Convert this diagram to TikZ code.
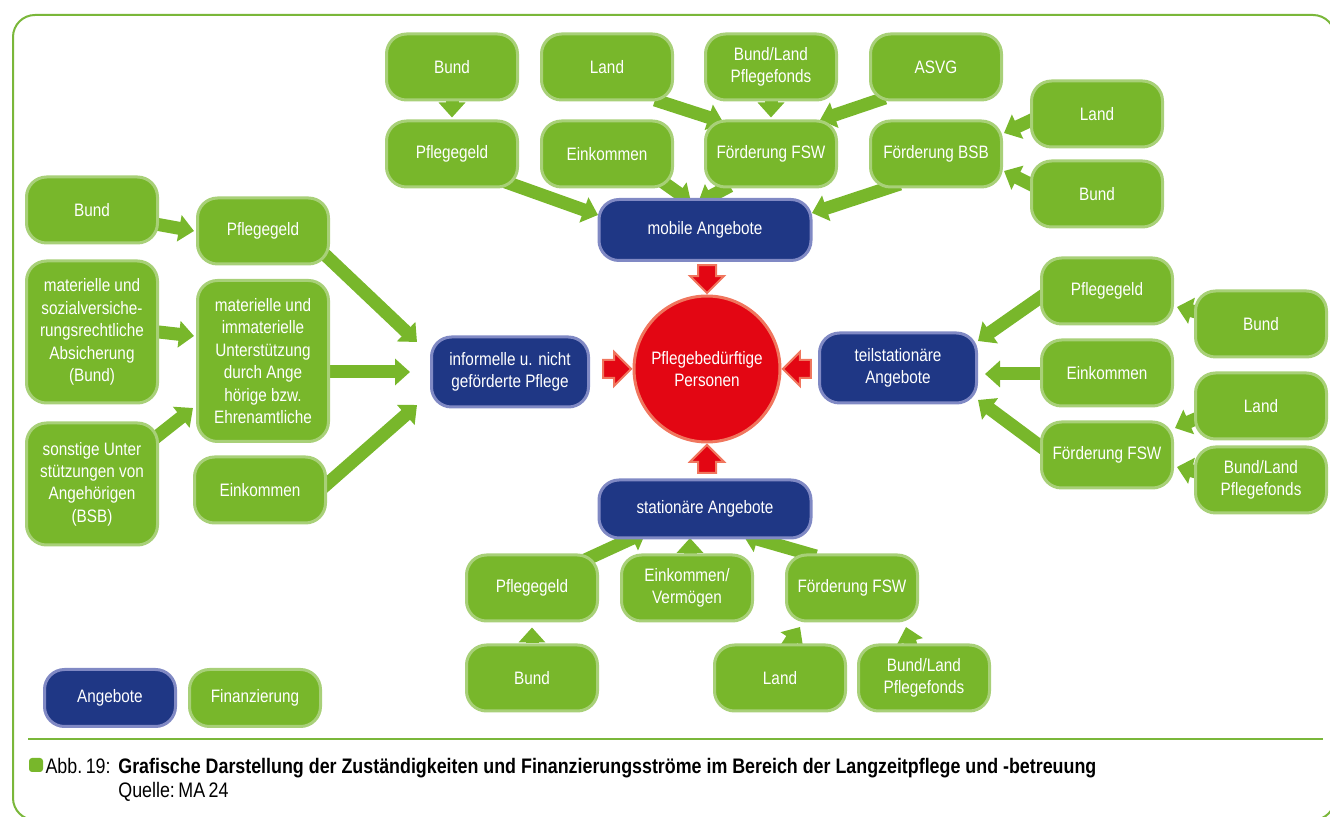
\documentclass[tikz,border=0pt]{standalone}
\usepackage{fontspec}
\setmainfont[FakeStretch=0.85]{Liberation Sans}
\usetikzlibrary{arrows.meta,shapes.arrows,backgrounds}
\definecolor{finGruen}{RGB}{120,183,43}
\definecolor{finRand}{RGB}{168,208,120}
\definecolor{angBlau}{RGB}{31,55,133}
\definecolor{angRand}{RGB}{128,137,196}
\definecolor{persRot}{RGB}{227,6,19}
\definecolor{persRand}{RGB}{240,118,94}
\definecolor{rahmen}{RGB}{122,183,58}
\tikzset{
  fin/.style={draw=finRand, fill=finGruen, line width=1.5pt, rounded corners=10pt,
    text=white, minimum width=65.5pt, minimum height=33pt, align=center, inner sep=2pt,
    font=\fontsize{9}{11.2}\selectfont},
  ang/.style={fin, draw=angRand, fill=angBlau},
  flow/.style={draw=finGruen, line width=6.5pt, -{Triangle[length=7.5pt,width=13pt]}},
  zu/.style={single arrow, draw=persRand, fill=persRot, line width=1pt, inner sep=4pt,
    single arrow head extend=4pt, minimum height=14pt}
}
\begin{document}
\begin{tikzpicture}[x=0.5pt,y=-0.5pt]
\useasboundingbox (0,0) rectangle (1330,817);
\clip (0,0) rectangle (1330,817);
% Rahmen
\draw[rahmen, line width=1pt, rounded corners=11pt] (13,15) rectangle (1335,820);
\draw[rahmen, line width=1pt] (28,739) -- (1323,739); % trennlinie
% Angebote
\node[ang, minimum width=106pt, minimum height=30.5pt] (mob) at (705,230) {mobile Angebote};
\node[ang, minimum width=106pt, minimum height=29pt] (stat) at (705,509) {stationäre Angebote};
\node[ang, minimum width=78.5pt, minimum height=35pt] (inf) at (510,372) {informelle u. nicht\\geförderte Pflege};
\node[ang, minimum width=78.5pt, minimum height=35pt] (teil) at (898,368) {teilstationäre\\Angebote};
\node[circle, draw=persRand, fill=persRot, line width=1.5pt, minimum size=73pt, text=white,
  align=center, font=\fontsize{9}{11.2}\selectfont] (pers) at (707,369) {Pflegebedürftige\\Personen};
% Oben
\node[fin] (tBund) at (452,67) {Bund};
\node[fin] (tLand) at (607,67) {Land};
\node[fin] (tBL) at (771,67) {Bund/Land\\Pflegefonds};
\node[fin] (tAsvg) at (936,67) {ASVG};
\node[fin] (tPg) at (452,154) {Pflegegeld};
\node[fin] (tEin) at (607,154) {Einkommen};
\node[fin] (tFsw) at (771,154) {Förderung FSW};
\node[fin] (tBsb) at (936,154) {Förderung BSB};
\node[fin] (rtLand) at (1097,114) {Land};
\node[fin] (rtBund) at (1097,194) {Bund};
% Links
\node[fin] (lBund) at (92,210) {Bund};
\node[fin] (lPg) at (263,231) {Pflegegeld};
\node[fin, minimum height=71pt] (lMat) at (92,332) {materielle und\\sozialversiche-\\rungsrechtliche\\Absicherung\\(Bund)};
\node[fin, minimum height=80.5pt] (lMatI) at (263,361) {materielle und\\immaterielle\\Unterstützung\\durch Ange\\hörige bzw.\\Ehrenamtliche};
\node[fin, minimum height=61pt] (lSon) at (92,484) {sonstige Unter\\stützungen von\\Angehörigen\\(BSB)};
\node[fin] (lEin) at (260,490) {Einkommen};
% Rechts
\node[fin] (rPg) at (1107,291) {Pflegegeld};
\node[fin] (rBund) at (1261,324) {Bund};
\node[fin] (rEin) at (1107,373) {Einkommen};
\node[fin] (rLand) at (1261,406) {Land};
\node[fin] (rFsw) at (1107,455) {Förderung FSW};
\node[fin] (rBL) at (1261,480) {Bund/Land\\Pflegefonds};
% Unten
\node[fin] (bPg) at (532,588) {Pflegegeld};
\node[fin] (bEin) at (687,588) {Einkommen/\\Vermögen};
\node[fin] (bFsw) at (852,588) {Förderung FSW};
\node[fin] (bBund) at (532,678) {Bund};
\node[fin] (bLand) at (780,678) {Land};
\node[fin] (bBL) at (924,678) {Bund/Land\\Pflegefonds};
% Legende
\node[ang, minimum height=28.5pt] (legAng) at (110,698) {Angebote};
\node[fin, minimum height=28.5pt] (legFin) at (255,698) {Finanzierung};
% Rote Pfeile
\node[zu, rotate=-90, anchor=tip] (zuMob) at (pers.north) {};
\node[zu, anchor=tip] (zuInf) at (pers.west) {};
\node[zu, rotate=180, anchor=tip] (zuTeil) at (pers.east) {};
\node[zu, rotate=90, anchor=tip] (zuStat) at (pers.south) {};
% Gruene Pfeile
\begin{scope}[on background layer]
\draw[flow, shorten >=1pt] (tBund) -- (tPg);
\draw[flow] ([shift={(48,33)}]tLand.center) -- ([shift={(-48,-32)}]tFsw.center);
\draw[flow, shorten >=1pt] (tBL) -- (tFsw);
\draw[flow] ([shift={(-51,31)}]tAsvg.center) -- ([shift={(49,-34)}]tFsw.center);
\draw[flow] ([shift={(48,26)}]tPg.center) -- ([shift={(-107,-15)}]mob.center);
\draw[flow] ([shift={(53,26)}]tEin.center) -- ([shift={(-14,-28)}]mob.center);
\draw[flow] ([shift={(-41,32)}]tFsw.center) -- ([shift={(-7,-27)}]mob.center);
\draw[flow] ([shift={(-36,30)}]tBsb.center) -- ([shift={(107,-17)}]mob.center);
\draw[flow] ([shift={(-61,4)}]rtLand.center) -- ([shift={(68,-21)}]tBsb.center);
\draw[flow] ([shift={(-61,-7)}]rtBund.center) -- ([shift={(68,17)}]tBsb.center);
% links
\draw[flow] ([shift={(58,13)}]lBund.center) -- ([shift={(-69,0)}]lPg.center);
\draw[flow] ([shift={(58,-1)}]lMat.center) -- ([shift={(-69,-25)}]lMatI.center);
\draw[flow] ([shift={(58,-42)}]lSon.center) -- ([shift={(-70,47)}]lMatI.center);
\draw[flow] ([shift={(57,19)}]lPg.center) -- ([shift={(-93,-30)}]inf.center);
\draw[flow] ([shift={(57,11)}]lMatI.center) -- ([shift={(-100,0)}]inf.center);
\draw[flow] ([shift={(58,2)}]lEin.center) -- ([shift={(-93,33)}]inf.center);
% rechts
\draw[flow] ([shift={(-59,1)}]rPg.center) -- ([shift={(80,-27)}]teil.center);
\draw[flow] ([shift={(-59,1)}]rEin.center) -- ([shift={(87,6)}]teil.center);
\draw[flow] ([shift={(-59,-3)}]rFsw.center) -- ([shift={(80,32)}]teil.center);
\draw[flow] ([shift={(-61,-11)}]rBund.center) -- ([shift={(70,16)}]rPg.center);
\draw[flow] ([shift={(-61,11)}]rLand.center) -- ([shift={(68,-27)}]rFsw.center);
\draw[flow] ([shift={(-61,-7)}]rBL.center) -- ([shift={(70,12)}]rFsw.center);
% unten
\draw[flow] ([shift={(53,-28)}]bPg.center) -- ([shift={(-59,23)}]stat.center);
\draw[flow] ([shift={(3,-20)}]bEin.center) -- ([shift={(-15,29)}]stat.center);
\draw[flow] ([shift={(-36,-32)}]bFsw.center) -- ([shift={(38,26)}]stat.center);
\draw[flow, shorten >=2.5pt] (bBund) -- (bPg);
\draw[flow] ([shift={(5,-28)}]bLand.center) -- ([shift={(-52,39)}]bFsw.center);
\draw[flow] ([shift={(-12,-28)}]bBL.center) -- ([shift={(54,39)}]bFsw.center);
\end{scope}
% Bildunterschrift
\fill[finGruen, rounded corners=1.5pt] (29,758) rectangle (43,772);
\node[anchor=base east, inner sep=0, font=\fontsize{10.5}{12}\selectfont] (abb) at (111,774) {Abb.\,19:};
\node[anchor=base west, inner sep=0, font=\fontsize{10.5}{12}\selectfont\bfseries] (titel) at (118,774) {Grafische Darstellung der Zuständigkeiten und Finanzierungsströme im Bereich der Langzeitpflege und -betreuung};
\node[anchor=base west, inner sep=0, font=\fontsize{10.5}{12}\selectfont] (quelle) at (118,798) {Quelle:\,MA\,24};
\end{tikzpicture}
\end{document}
